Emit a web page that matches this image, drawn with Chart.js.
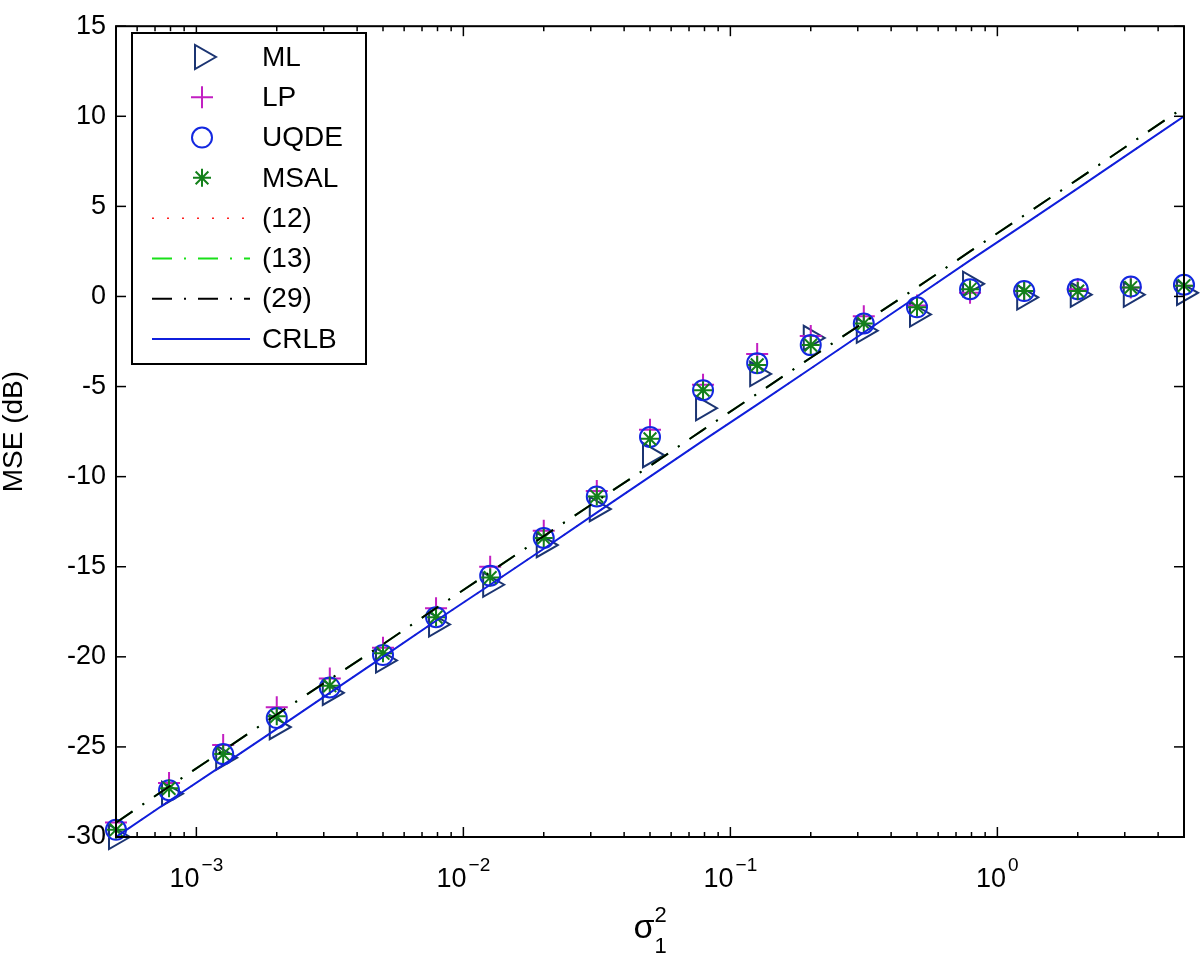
<!DOCTYPE html>
<html>
<head>
<meta charset="utf-8">
<script src="https://cdn.jsdelivr.net/npm/chart.js@4.4.1/dist/chart.umd.min.js"></script>
<style>
  html, body { margin: 0; padding: 0; background: #fff; }
  #wrap { width: 1200px; height: 960px; }
</style>
</head>
<body>
<div id="wrap"><canvas id="mseChart" width="1200" height="960"></canvas></div>
<script>
// --- data ---
const sigma2 = [0.0005, 0.00079, 0.00126, 0.002, 0.00316, 0.005, 0.0079, 0.0126, 0.02, 0.0316,
                0.05, 0.079, 0.126, 0.2, 0.316, 0.5, 0.79, 1.26, 2, 3.16, 5];
const mlVals   = [-30.0, -27.6, -25.6, -23.9, -22.0, -20.2, -18.2, -16.0, -13.8, -11.8,
                  -8.8, -6.2, -4.3, -2.3, -1.9, -1.0, 0.7, -0.05, 0.1, 0.1, 0.2];
const lpVals   = [-29.2, -27.0, -24.9, -22.8, -21.2, -19.5, -17.3, -15.0, -13.0, -10.8,
                  -7.4, -4.9, -3.2, -2.2, -1.1, -0.5, 0.2, 0.3, 0.4, 0.5, 0.6];
const uqdeVals = [-29.6, -27.4, -25.4, -23.4, -21.7, -19.9, -17.8, -15.5, -13.4, -11.1,
                  -7.8, -5.2, -3.7, -2.7, -1.5, -0.6, 0.4, 0.3, 0.4, 0.55, 0.65];
const msalVals = [-29.6, -27.3, -25.4, -23.3, -21.6, -19.8, -17.8, -15.6, -13.4, -11.1,
                  -7.9, -5.2, -3.8, -2.7, -1.5, -0.6, 0.4, 0.3, 0.3, 0.5, 0.6];
const eq12Vals = [-30, -28, -26, -24, -22, -20, -18, -16, -14, -12,
                  -10, -8, -6, -4, -2, 0, 2, 4, 6, 8, 10];
const eq13Vals = [-29.2, -27.2, -25.2, -23.2, -21.25, -19.3, -17.3, -15.3, -13.3, -11.35,
                  -9.4, -7.4, -5.4, -3.4, -1.45, 0.5, 2.5, 4.5, 6.5, 8.5, 10.5];
const eq29Vals = [-29.2, -27.2, -25.2, -23.2, -21.25, -19.3, -17.3, -15.3, -13.3, -11.35,
                  -9.4, -7.4, -5.4, -3.4, -1.45, 0.5, 2.5, 4.5, 6.5, 8.5, 10.5];
const crlbVals = [-30, -28, -26, -24, -22, -20, -18, -16, -14, -12,
                  -10, -8, -6, -4, -2, 0, 2, 4, 6, 8, 10];

// axis ticks
const yTicks = [-30, -25, -20, -15, -10, -5, 0, 5, 10, 15];
const xMajorTicks = [0.001, 0.01, 0.1, 1];
const xMajorExp = ['\u22123', '\u22122', '\u22121', '0'];
const xDecades = [0.0001, 0.001, 0.01, 0.1, 1];
const xMinorMult = [2, 3, 4, 5, 6, 7, 8, 9];
const X_MIN = 0.0005, X_MAX = 5;

const FONT = '"Liberation Sans", Arial, Helvetica, sans-serif';

const xTickList = [];
xDecades.forEach(d => {
    xTickList.push(d);
    xMinorMult.forEach(m => xTickList.push(m * d));
});
const xTicksInRange = xTickList.filter(v => v >= X_MIN * 0.999 && v <= X_MAX * 1.001);

const pts = vals => sigma2.map((s, i) => ({ x: s, y: vals[i] }));

function markerSet(label, vals, style, radius, color, order, rotation) {
    return {
        label: label,
        data: pts(vals),
        showLine: false,
        pointStyle: style,
        rotation: rotation || 0,
        pointRadius: radius,
        pointHoverRadius: radius,
        pointBorderWidth: 2,
        pointBorderColor: color,
        pointBackgroundColor: 'rgba(0,0,0,0)',
        borderColor: color,
        backgroundColor: 'rgba(0,0,0,0)',
        clip: false,
        order: order
    };
}

function lineSet(label, vals, color, dash, width, order) {
    return {
        label: label,
        data: pts(vals),
        borderColor: color,
        borderWidth: width,
        borderDash: dash,
        pointRadius: 0,
        pointStyle: false,
        fill: false,
        tension: 0,
        order: order
    };
}

const datasets = [
    markerSet('ML', mlVals, 'triangle', 14, '#1b3472', 8, 90),
    markerSet('LP', lpVals, 'cross', 11, '#c21fc2', 7),
    markerSet('UQDE', uqdeVals, 'circle', 10, '#1328e0', 6),
    markerSet('MSAL', msalVals, 'star', 9, '#13801a', 5),
    lineSet('(12)', eq12Vals, '#ff2020', [2, 13], 1.5, 4),
    lineSet('(13)', eq13Vals, '#19e019', [20, 12, 2, 12], 2, 3),
    lineSet('(29)', eq29Vals, '#000000', [20, 12, 2, 12], 2, 2),
    lineSet('CRLB', crlbVals, '#0f1fdc', [], 2, 1)
];

// --- frame, inward ticks, x tick labels, axis titles, legend ---
const matlabFrame = {
    id: 'matlabFrame',
    afterDraw(chart) {
        const { ctx, chartArea: a, scales: { x, y } } = chart;
        ctx.save();

        const seg = (x1, y1, x2, y2) => {
            ctx.beginPath(); ctx.moveTo(x1, y1); ctx.lineTo(x2, y2); ctx.stroke();
        };

        ctx.strokeStyle = '#000';
        ctx.lineWidth = 2;
        ctx.setLineDash([]);
        ctx.strokeRect(a.left, a.top, a.right - a.left, a.bottom - a.top);

        ctx.lineWidth = 1.5;
        yTicks.forEach(v => {
            const py = y.getPixelForValue(v);
            seg(a.left, py, a.left + 10, py);
            seg(a.right, py, a.right - 10, py);
        });
        xTicksInRange.forEach(v => {
            const px = x.getPixelForValue(v);
            const len = xMajorTicks.some(m => Math.abs(m - v) < m * 1e-6) ? 10 : 5;
            seg(px, a.bottom, px, a.bottom - len);
            seg(px, a.top, px, a.top + len);
        });

        // x tick labels 10^n
        ctx.fillStyle = '#000';
        ctx.textBaseline = 'alphabetic';
        ctx.textAlign = 'left';
        xMajorTicks.forEach((v, i) => {
            const px = x.getPixelForValue(v);
            ctx.font = '27px ' + FONT;
            const w1 = ctx.measureText('10').width;
            ctx.font = '19px ' + FONT;
            const w2 = ctx.measureText(xMajorExp[i]).width;
            const start = px - (w1 + 2 + w2) / 2;
            ctx.font = '27px ' + FONT;
            ctx.fillText('10', start, a.bottom + 50);
            ctx.font = '19px ' + FONT;
            ctx.fillText(xMajorExp[i], start + w1 + 2, a.bottom + 34);
        });

        // x title: sigma_1^2
        const cx = (a.left + a.right) / 2;
        ctx.font = '34px ' + FONT;
        const ws = ctx.measureText('\u03c3').width;
        const sx = cx - (ws + 12) / 2;
        ctx.fillText('\u03c3', sx, 938);
        ctx.font = '22px ' + FONT;
        ctx.fillText('2', sx + ws, 922);
        ctx.fillText('1', sx + ws, 953);

        // y title
        ctx.save();
        ctx.translate(22, (a.top + a.bottom) / 2);
        ctx.rotate(-Math.PI / 2);
        ctx.textAlign = 'center';
        ctx.font = '28px ' + FONT;
        ctx.fillText('MSE (dB)', 0, 0);
        ctx.restore();

        // legend box
        const box = { left: 132, top: 33, right: 366, bottom: 364 };
        ctx.fillStyle = '#fff';
        ctx.fillRect(box.left, box.top, box.right - box.left, box.bottom - box.top);
        ctx.strokeStyle = '#000';
        ctx.lineWidth = 2;
        ctx.strokeRect(box.left, box.top, box.right - box.left, box.bottom - box.top);

        const rowH = (339 - 57) / 7;
        chart.data.datasets.forEach((ds, i) => {
            const ry = 57 + i * rowH;
            if (ds.showLine === false) {
                ctx.strokeStyle = ds.pointBorderColor;
                ctx.fillStyle = 'rgba(0,0,0,0)';
                ctx.lineWidth = ds.pointBorderWidth;
                ctx.setLineDash([]);
                Chart.helpers.drawPoint(ctx, {
                    pointStyle: ds.pointStyle,
                    rotation: ds.rotation,
                    radius: ds.pointRadius,
                    borderWidth: ds.pointBorderWidth
                }, 202, ry);
            } else {
                ctx.strokeStyle = ds.borderColor;
                ctx.lineWidth = ds.borderWidth;
                ctx.setLineDash(ds.borderDash);
                ctx.lineDashOffset = 0;
                seg(152, ry, 250, ry);
                ctx.setLineDash([]);
            }
            ctx.fillStyle = '#000';
            ctx.font = '28px ' + FONT;
            ctx.textAlign = 'left';
            ctx.textBaseline = 'middle';
            ctx.fillText(ds.label, 262, ry + 1);
        });

        ctx.restore();
    }
};

new Chart(document.getElementById('mseChart'), {
    type: 'line',
    data: { datasets: datasets },
    options: {
        responsive: false,
        animation: false,
        events: [],
        layout: { padding: { top: 16, right: 15, left: 0, bottom: 0 } },
        plugins: { legend: { display: false }, tooltip: { enabled: false } },
        scales: {
            x: {
                type: 'logarithmic',
                min: X_MIN,
                max: X_MAX,
                grid: { display: false, drawTicks: false },
                border: { display: false },
                ticks: { display: false },
                afterBuildTicks: s => { s.ticks = xTicksInRange.map(v => ({ value: v })); },
                afterFit: s => { s.height = 123; }
            },
            y: {
                min: -30,
                max: 15,
                grid: { display: false, drawTicks: false },
                border: { display: false },
                ticks: {
                    stepSize: 5,
                    padding: 10,
                    color: '#000',
                    font: { family: FONT, size: 27 },
                    callback: v => String(v)
                },
                afterFit: s => { s.width = 116; }
            }
        }
    },
    plugins: [matlabFrame]
});
</script>
</body>
</html>
